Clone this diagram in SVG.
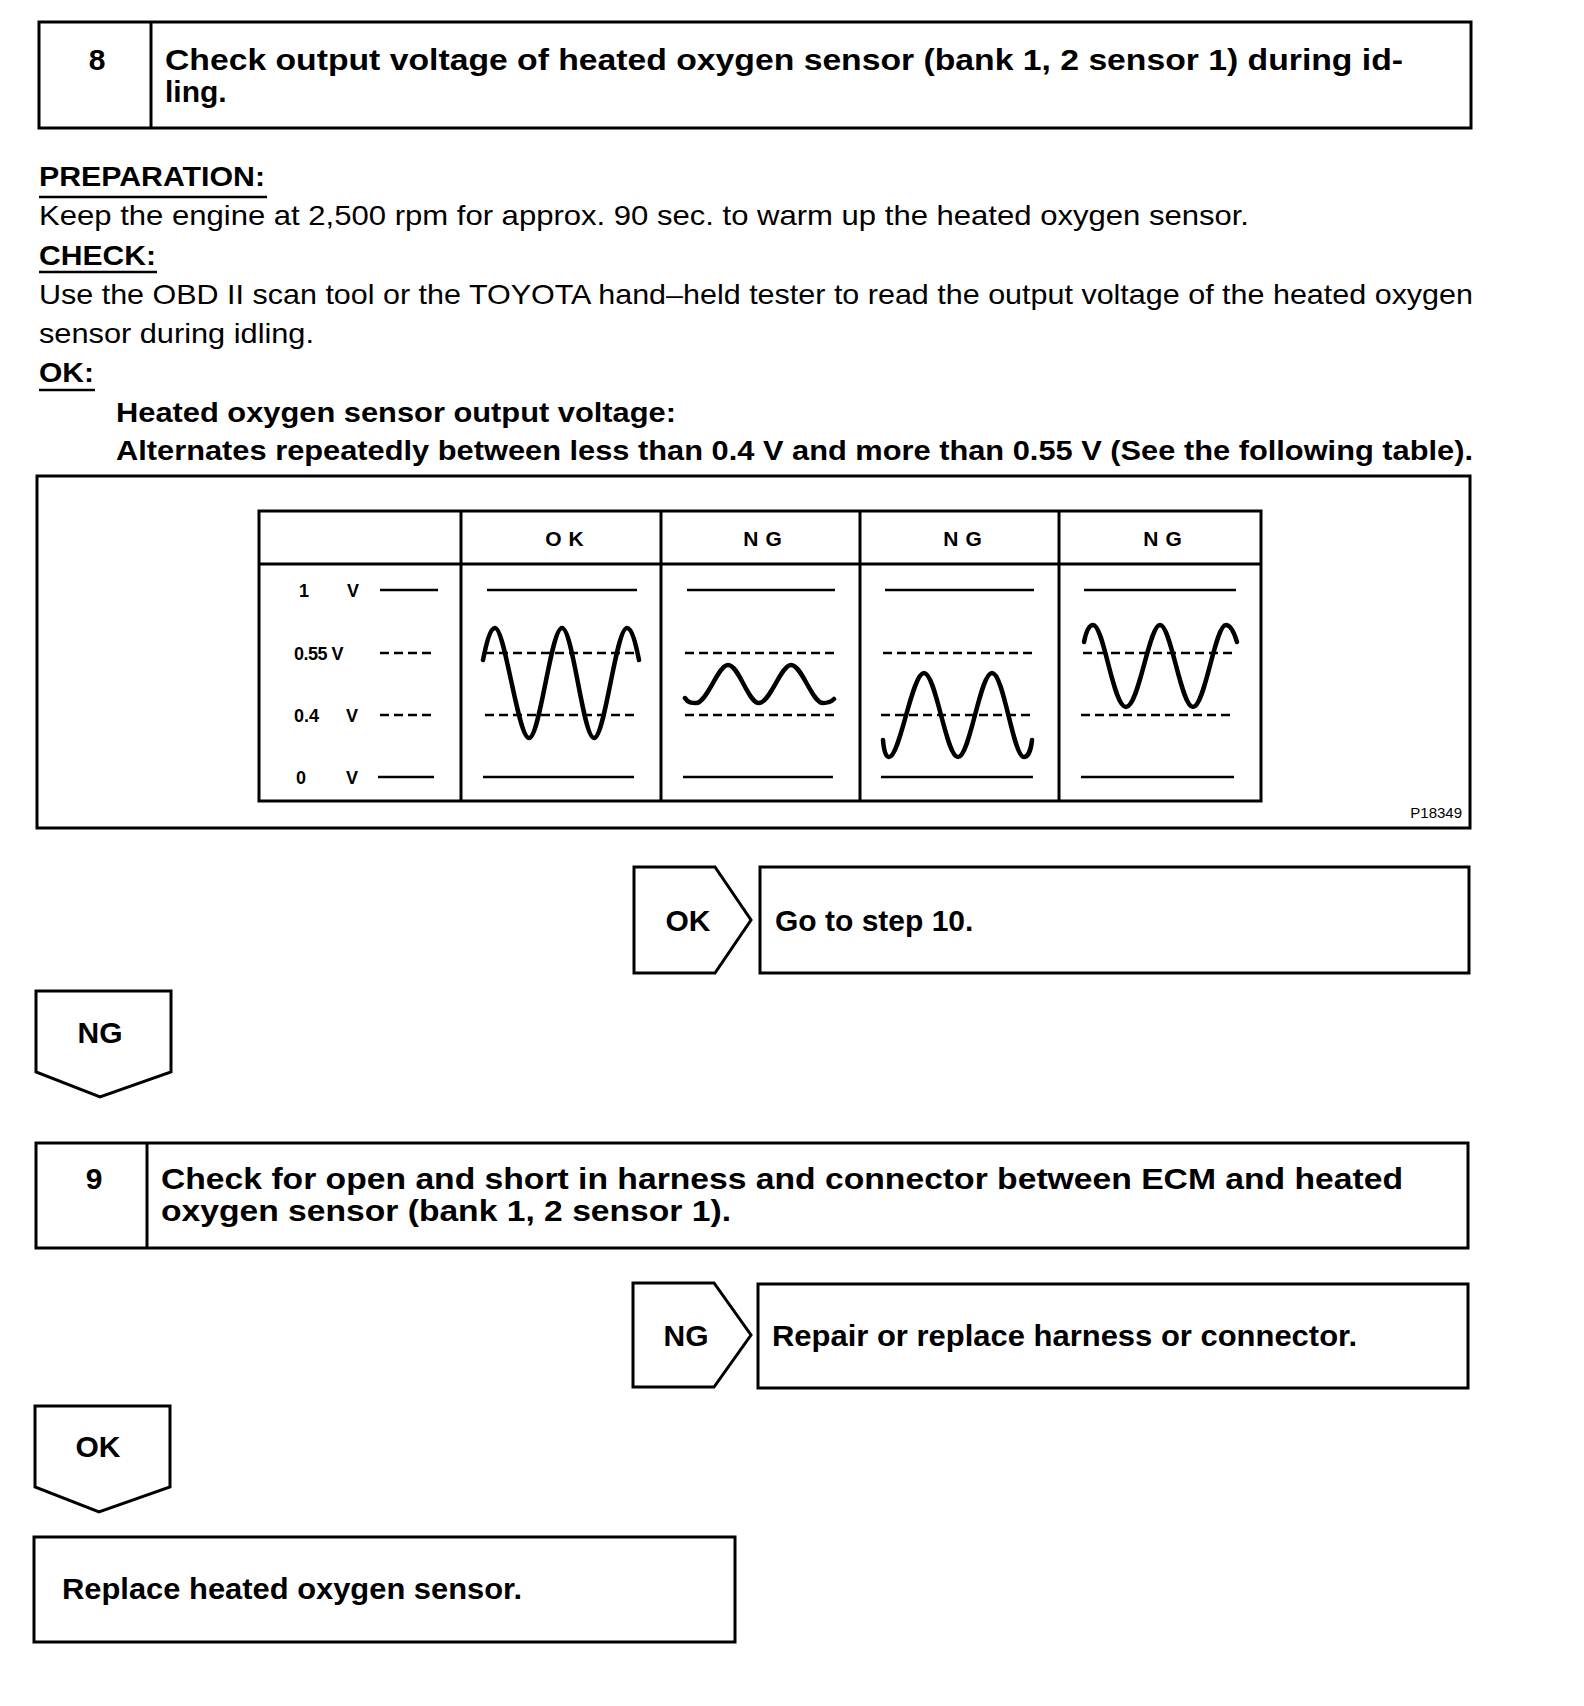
<svg xmlns="http://www.w3.org/2000/svg" width="1584" height="1706" viewBox="0 0 1584 1706">
<style>
.box{fill:#fff;stroke:#000;stroke-width:3}
.ln{stroke:#000;stroke-width:3;fill:none}
.thin{stroke:#000;stroke-width:2.5;fill:none}
.dash{stroke:#000;stroke-width:2.5;fill:none;stroke-dasharray:9 5}
.wave{stroke:#000;stroke-width:4.5;fill:none;stroke-linecap:round;stroke-linejoin:round}
.b{font-family:"Liberation Sans",Arial,sans-serif;font-weight:bold;font-size:30px;fill:#000}
.r{font-family:"Liberation Sans",Arial,sans-serif;font-size:28px;fill:#000}
.h{font-family:"Liberation Sans",Arial,sans-serif;font-weight:bold;font-size:27px;fill:#000}
.t{font-family:"Liberation Sans",Arial,sans-serif;font-weight:bold;font-size:21px;fill:#000;letter-spacing:7px}
.lab{font-family:"Liberation Sans",Arial,sans-serif;font-weight:bold;font-size:18px;fill:#000}
.id{font-family:"Liberation Sans",Arial,sans-serif;font-size:15px;fill:#000}
</style>
<rect width="1584" height="1706" fill="#fff"/>

<g id="step8">
<rect class="box" x="39" y="22" width="1432" height="106"/>
<line class="ln" x1="151" y1="22" x2="151" y2="128"/>
<text class="b" x="97" y="70" text-anchor="middle">8</text>
<text class="b" x="165" y="70" textLength="1238" lengthAdjust="spacingAndGlyphs">Check output voltage of heated oxygen sensor (bank 1, 2 sensor 1) during id-</text>
<text class="b" x="165" y="102">ling.</text>
</g>

<g id="instructions">
<text class="h" x="39" y="186" textLength="226" lengthAdjust="spacingAndGlyphs">PREPARATION:</text>
<line class="thin" x1="39" y1="197" x2="267" y2="197"/>
<text class="r" x="39" y="225" textLength="1210" lengthAdjust="spacingAndGlyphs">Keep the engine at 2,500 rpm for approx. 90 sec. to warm up the heated oxygen sensor.</text>
<text class="h" x="39" y="265" textLength="117" lengthAdjust="spacingAndGlyphs">CHECK:</text>
<line class="thin" x1="39" y1="272" x2="157" y2="272"/>
<text class="r" x="39" y="304" textLength="1434" lengthAdjust="spacingAndGlyphs">Use the OBD II scan tool or the TOYOTA hand–held tester to read the output voltage of the heated oxygen</text>
<text class="r" x="39" y="343" textLength="275" lengthAdjust="spacingAndGlyphs">sensor during idling.</text>
<text class="h" x="39" y="382" textLength="55" lengthAdjust="spacingAndGlyphs">OK:</text>
<line class="thin" x1="39" y1="390" x2="95" y2="390"/>
<text class="h" x="116" y="422" textLength="560" lengthAdjust="spacingAndGlyphs">Heated oxygen sensor output voltage:</text>
<text class="h" x="116" y="460" textLength="1357" lengthAdjust="spacingAndGlyphs">Alternates repeatedly between less than 0.4 V and more than 0.55 V (See the following table).</text>
</g>

<g id="waveform-table">
<rect class="box" x="37" y="476" width="1433" height="352"/>
<rect class="ln" x="259" y="511" width="1002" height="290"/>
<line class="ln" x1="259" y1="564" x2="1261" y2="564"/>
<line class="ln" x1="461" y1="511" x2="461" y2="801"/>
<line class="ln" x1="661" y1="511" x2="661" y2="801"/>
<line class="ln" x1="860" y1="511" x2="860" y2="801"/>
<line class="ln" x1="1059" y1="511" x2="1059" y2="801"/>
<text class="t" x="568" y="546" text-anchor="middle">OK</text>
<text class="t" x="766" y="546" text-anchor="middle">NG</text>
<text class="t" x="966" y="546" text-anchor="middle">NG</text>
<text class="t" x="1166" y="546" text-anchor="middle">NG</text>

<text class="lab" x="299" y="597">1</text>
<text class="lab" x="347" y="597">V</text>
<line class="thin" x1="380" y1="590" x2="438" y2="590"/>
<text class="lab" x="294" y="660" letter-spacing="-0.5">0.55 V</text>
<line class="dash" x1="380" y1="653" x2="436" y2="653"/>
<text class="lab" x="294" y="722">0.4</text>
<text class="lab" x="346" y="722">V</text>
<line class="dash" x1="380" y1="715" x2="436" y2="715"/>
<text class="lab" x="296" y="784">0</text>
<text class="lab" x="346" y="784">V</text>
<line class="thin" x1="378" y1="777" x2="434" y2="777"/>

<line class="thin" x1="487" y1="590" x2="637" y2="590"/>
<line class="dash" x1="485" y1="653" x2="637" y2="653"/>
<line class="dash" x1="485" y1="715" x2="637" y2="715"/>
<line class="thin" x1="483" y1="777" x2="634" y2="777"/>
<path class="wave" d="M483,660 C486,645 490,628 495,628 C505,628 518,738 529,738 C540,738 551,628 562,628 C573,628 583,738 594,738 C605,738 616,628 627,628 C632,628 636,645 639,660"/>

<line class="thin" x1="687" y1="590" x2="835" y2="590"/>
<line class="dash" x1="685" y1="653" x2="835" y2="653"/>
<line class="dash" x1="685" y1="715" x2="835" y2="715"/>
<line class="thin" x1="683" y1="777" x2="833" y2="777"/>
<path class="wave" d="M685,698 C688,703 692,703 696,703 C707,703 718,665 728,665 C739,665 748,703 759,703 C770,703 781,665 791,665 C802,665 812,703 823,703 C828,703 831,702 834,699"/>

<line class="thin" x1="885" y1="590" x2="1034" y2="590"/>
<line class="dash" x1="883" y1="653" x2="1034" y2="653"/>
<line class="dash" x1="881" y1="715" x2="1035" y2="715"/>
<line class="thin" x1="881" y1="777" x2="1033" y2="777"/>
<path class="wave" d="M883,740 C884,752 886,757 889,757 C900,757 912,673 924,673 C936,673 946,757 958,757 C970,757 980,673 992,673 C1004,673 1013,757 1024,757 C1028,757 1031,750 1032,740"/>

<line class="thin" x1="1084" y1="590" x2="1236" y2="590"/>
<line class="dash" x1="1083" y1="653" x2="1235" y2="653"/>
<line class="dash" x1="1081" y1="715" x2="1235" y2="715"/>
<line class="thin" x1="1081" y1="777" x2="1234" y2="777"/>
<path class="wave" d="M1084,642 C1086,632 1089,625 1093,625 C1104,625 1113,707 1126,707 C1139,707 1149,625 1160,625 C1171,625 1181,707 1193,707 C1205,707 1215,625 1226,625 C1230,625 1234,632 1237,642"/>

<text class="id" x="1462" y="818" text-anchor="end">P18349</text>
</g>

<g id="connectors">
<g id="ok-right-1">
<polygon class="box" points="634,867 715,867 751,920 715,973 634,973"/>
<text class="b" x="688" y="931" text-anchor="middle">OK</text>
</g>
<g id="ng-down-1">
<polygon class="box" points="36,991 171,991 171,1072 100,1097 36,1072"/>
<text class="b" x="100" y="1043" text-anchor="middle">NG</text>
</g>
<g id="ng-right-2">
<polygon class="box" points="633,1283 714,1283 751,1335 714,1387 633,1387"/>
<text class="b" x="686" y="1346" text-anchor="middle">NG</text>
</g>
<g id="ok-down-2">
<polygon class="box" points="35,1406 170,1406 170,1487 99,1512 35,1487"/>
<text class="b" x="98" y="1457" text-anchor="middle">OK</text>
</g>
</g>

<g id="goto10">
<rect class="box" x="760" y="867" width="709" height="106"/>
<text class="b" x="775" y="931">Go to step 10.</text>
</g>

<g id="step9">
<rect class="box" x="36" y="1143" width="1432" height="105"/>
<line class="ln" x1="147" y1="1143" x2="147" y2="1248"/>
<text class="b" x="94" y="1189" text-anchor="middle">9</text>
<text class="b" x="161" y="1189" textLength="1242" lengthAdjust="spacingAndGlyphs">Check for open and short in harness and connector between ECM and heated</text>
<text class="b" x="161" y="1221" textLength="570" lengthAdjust="spacingAndGlyphs">oxygen sensor (bank 1, 2 sensor 1).</text>
</g>

<g id="repair">
<rect class="box" x="758" y="1284" width="710" height="104"/>
<text class="b" x="772" y="1346" textLength="585" lengthAdjust="spacingAndGlyphs">Repair or replace harness or connector.</text>
</g>

<g id="replace-sensor">
<rect class="box" x="34" y="1537" width="701" height="105"/>
<text class="b" x="62" y="1599" textLength="460" lengthAdjust="spacingAndGlyphs">Replace heated oxygen sensor.</text>
</g>
</svg>
